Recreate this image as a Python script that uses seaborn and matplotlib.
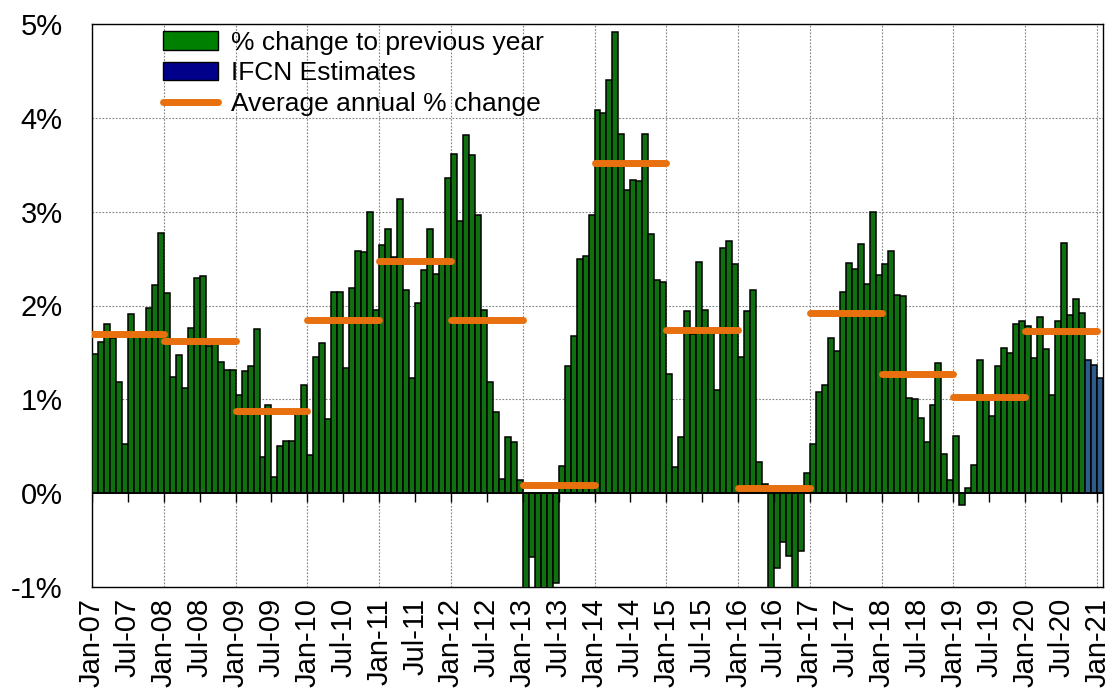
import numpy as np
import pandas as pd
import seaborn as sns
import matplotlib.pyplot as plt
from matplotlib.patches import Patch
from matplotlib.lines import Line2D

# monthly % change to previous year
pct_2007 = [1.48, 1.61, 1.80, 1.65, 1.19, 0.52, 1.91, 1.68, 1.72, 1.97, 2.22, 2.77]
pct_2008 = [2.13, 1.24, 1.47, 1.12, 1.76, 2.29, 2.31, 1.57, 1.61, 1.40, 1.31, 1.31]
pct_2009 = [1.05, 1.30, 1.36, 1.75, 0.39, 0.94, 0.17, 0.50, 0.56, 0.56, 0.85, 1.15]
pct_2010 = [0.41, 1.45, 1.60, 0.79, 2.14, 2.14, 1.33, 2.19, 2.58, 2.57, 3.00, 1.95]
pct_2011 = [2.64, 2.81, 2.52, 3.14, 2.16, 1.23, 2.03, 2.38, 2.81, 2.34, 2.45, 3.36]
pct_2012 = [3.61, 2.90, 3.82, 3.60, 2.96, 1.95, 1.19, 0.86, 0.15, 0.60, 0.54, 0.14]
pct_2013 = [-1.30, -0.68, -1.20, -1.25, -1.15, -0.96, 0.29, 1.35, 1.68, 2.50, 2.53, 2.96]
pct_2014 = [4.08, 4.05, 4.40, 4.92, 3.83, 3.23, 3.34, 3.33, 3.83, 2.76, 2.27, 2.25]
pct_2015 = [1.27, 0.28, 0.60, 1.94, 1.70, 2.46, 1.95, 1.72, 1.10, 2.61, 2.69, 2.44]
pct_2016 = [1.45, 1.94, 2.16, 0.33, 0.10, -1.10, -0.80, -0.52, -0.67, -1.10, -0.62, 0.21]
pct_2017 = [0.52, 1.08, 1.15, 1.65, 1.52, 2.14, 2.45, 2.39, 2.66, 2.23, 3.00, 2.32]
pct_2018 = [2.44, 2.58, 2.11, 2.10, 1.01, 1.00, 0.80, 0.55, 0.94, 1.39, 0.42, 0.14]
pct_2019 = [0.61, -0.13, 0.06, 0.30, 1.42, 0.99, 0.82, 1.35, 1.55, 1.49, 1.80, 1.83]
pct_2020 = [1.78, 1.44, 1.88, 1.54, 1.05, 1.83, 2.67, 1.90, 2.07, 1.92, 1.42, 1.37]
pct_2021 = [1.23]
n_estimates = 3  # last bars are IFCN estimates

avg_years = list(range(2007, 2021))
avg_values = [1.70, 1.62, 0.88, 1.85, 2.47, 1.85, 0.09, 3.52, 1.74, 0.06, 1.92, 1.27, 1.02, 1.73]

month_names = ["Jan", "Feb", "Mar", "Apr", "May", "Jun",
               "Jul", "Aug", "Sep", "Oct", "Nov", "Dec"]

values = (pct_2007 + pct_2008 + pct_2009 + pct_2010 + pct_2011 + pct_2012 + pct_2013
          + pct_2014 + pct_2015 + pct_2016 + pct_2017 + pct_2018 + pct_2019 + pct_2020 + pct_2021)
labels = [f"{m}-{y % 100:02d}" for y in range(2007, 2022) for m in month_names][:len(values)]
kind = ["actual"] * (len(values) - n_estimates) + ["est"] * n_estimates
df = pd.DataFrame({"month": labels, "value": values, "kind": kind})

rows = []
for i, (yr, a) in enumerate(zip(avg_years, avg_values)):
    rows.append({"x": i * 12 - 0.5, "avg": a, "year": yr})
    rows.append({"x": i * 12 + 11.5, "avg": a, "year": yr})
avg_df = pd.DataFrame(rows)

green = "#008000"
blue_bar = "#1F5C99"
blue_leg = "#00008B"
orange = "#E8700E"

sns.set_style("white")
plt.rcParams["font.family"] = ["Liberation Sans", "DejaVu Sans"]
plt.rcParams["text.color"] = "black"
plt.rcParams["xtick.color"] = "black"
plt.rcParams["ytick.color"] = "black"

fig = plt.figure(figsize=(11.12, 6.94), dpi=100)
ax = fig.add_axes([92 / 1112, 1 - 587 / 694, 1011 / 1112, 563 / 694])

sns.barplot(data=df, x="month", y="value", hue="kind", order=labels,
            palette={"actual": green, "est": blue_bar}, dodge=False, width=1.0,
            edgecolor="black", linewidth=1.1, errorbar=None, legend=False, ax=ax, zorder=3)

sns.lineplot(data=avg_df, x="x", y="avg", units="year", estimator=None,
             color=orange, linewidth=5, solid_capstyle="round", legend=False, ax=ax, zorder=4)

n = len(values)
ax.set_xlim(-0.5, n - 0.5)
ax.set_ylim(-1, 5)

# grid: horizontal every 1 %, vertical at each January
for yv in range(-1, 6):
    ax.axhline(yv, color="#808080", lw=0.8, ls=(0, (1.5, 1.5)), zorder=1)
for xv in np.arange(-0.5, n, 12):
    ax.axvline(xv, color="#808080", lw=0.8, ls=(0, (1.5, 1.5)), zorder=1)
ax.axhline(0, color="black", lw=1.2, zorder=5)

# small tick marks hanging off the zero line
tick_pos = np.arange(-0.5, n, 6)
ax.vlines(tick_pos, -0.09, 0, color="black", lw=1.0, zorder=5)

tick_labels = [labels[int(p + 0.5)] if int(p + 0.5) < n else "" for p in tick_pos]
ax.set_xticks(tick_pos)
ax.set_xticklabels(tick_labels, rotation=90, fontsize=21, color="black")
ax.tick_params(axis="x", length=0, pad=8)

ax.set_yticks(range(-1, 6))
ax.set_yticklabels([f"{v}%" for v in range(-1, 6)], fontsize=21, color="black")
ax.tick_params(axis="y", length=0, pad=21)
ax.set_xlabel("")
ax.set_ylabel("")

for s in ax.spines.values():
    s.set_color("black")
    s.set_linewidth(1.0)
    s.set_visible(True)

handles = [
    Patch(facecolor=green, edgecolor="black", linewidth=1.0),
    Patch(facecolor=blue_leg, edgecolor="black", linewidth=1.0),
    Line2D([0], [0], color=orange, lw=5, solid_capstyle="round"),
]
leg_labels = ["% change to previous year", "IFCN Estimates", "Average annual % change"]
leg = ax.legend(handles, leg_labels, loc="upper left", bbox_to_anchor=(0.070, 0.988),
                frameon=False, fontsize=19, handlelength=2.1, handletextpad=0.5,
                labelspacing=0.25, borderpad=0, borderaxespad=0)
for t in leg.get_texts():
    t.set_color("black")

fig.savefig("out.png", dpi=100)
